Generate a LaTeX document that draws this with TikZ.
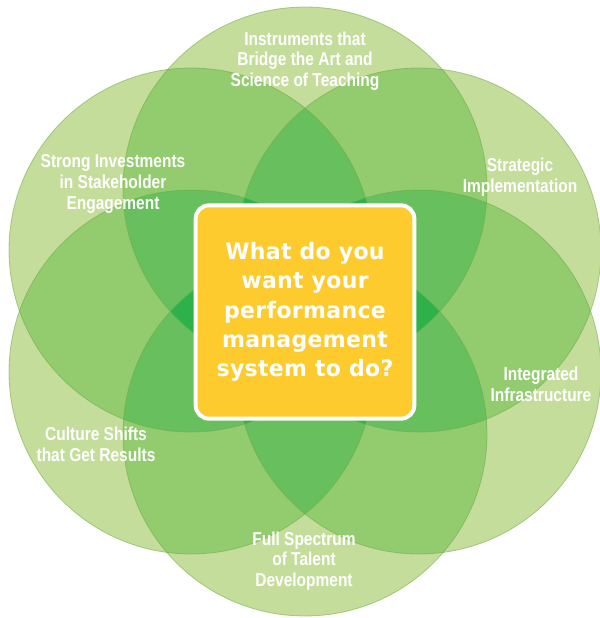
\documentclass[tikz,border=0pt]{standalone}
\usepackage{fontspec}
\usepackage{xcolor}
\usetikzlibrary{shadows}
\newfontfamily\lblfont[FakeStretch=0.83]{Liberation Sans Bold}
\newfontfamily\askfont[LetterSpace=1.5,FakeStretch=0.97]{DejaVu Sans Bold}
\definecolor{lvone}{RGB}{197,221,155}
\definecolor{lvtwo}{RGB}{146,204,110}
\definecolor{lvthree}{RGB}{103,191,94}
\definecolor{lvfour}{RGB}{45,178,75}
\definecolor{ringline}{RGB}{110,170,70}
\definecolor{askyellow}{RGB}{253,203,45}
\newcommand\crad{182}
\tikzset{
  ring/.style={draw=ringline,draw opacity=0.55,line width=0.6pt},
  lbl/.style={text=white,align=center,font=\lblfont\fontsize{14}{15.5}\selectfont},
  askbox/.style={draw=white,line width=3pt,rounded corners=10pt,fill=askyellow,minimum width=164pt,minimum height=160pt,
    drop shadow={shadow xshift=1.2pt,shadow yshift=-1.2pt,opacity=0.35}},
  asktext/.style={text=white,align=center,font=\askfont\fontsize{17}{22}\selectfont}
}
\begin{document}
\begin{tikzpicture}[x=0.75pt,y=-0.75pt]
  \useasboundingbox (0,0) rectangle (600,618);
  % circle centres, clockwise from the top
  \coordinate (c1) at (305,189);
  \coordinate (c2) at (419,250);
  \coordinate (c3) at (419,372);
  \coordinate (c4) at (305,434);
  \coordinate (c5) at (191,372);
  \coordinate (c6) at (191,250);

  % one layer
  \foreach \ia in {1,...,6}
    \fill[lvone] (c\ia) circle[radius=\crad];
  % two layers
  \foreach \ia in {1,...,5}{
    \pgfmathtruncatemacro\an{\ia+1}
    \foreach \ib in {\an,...,6}{
      \begin{scope}
        \clip (c\ia) circle[radius=\crad];
        \fill[lvtwo] (c\ib) circle[radius=\crad];
      \end{scope}}}
  % three layers
  \foreach \ia in {1,...,4}{
    \pgfmathtruncatemacro\an{\ia+1}
    \foreach \ib in {\an,...,5}{
      \pgfmathtruncatemacro\bn{\ib+1}
      \foreach \ic in {\bn,...,6}{
        \begin{scope}
          \clip (c\ia) circle[radius=\crad];
          \clip (c\ib) circle[radius=\crad];
          \fill[lvthree] (c\ic) circle[radius=\crad];
        \end{scope}}}}
  % four layers
  \foreach \ia in {1,...,3}{
    \pgfmathtruncatemacro\an{\ia+1}
    \foreach \ib in {\an,...,4}{
      \pgfmathtruncatemacro\bn{\ib+1}
      \foreach \ic in {\bn,...,5}{
        \pgfmathtruncatemacro\cn{\ic+1}
        \foreach \id in {\cn,...,6}{
          \begin{scope}
            \clip (c\ia) circle[radius=\crad];
            \clip (c\ib) circle[radius=\crad];
            \clip (c\ic) circle[radius=\crad];
            \fill[lvfour] (c\id) circle[radius=\crad];
          \end{scope}}}}}
  \foreach \ia in {1,...,6}
    \draw[ring] (c\ia) circle[radius=\crad];

  \node (instr) [lbl] at (305,61) {Instruments that\\Bridge the Art and\\Science of Teaching};
  \node (invest) [lbl] at (113,184) {Strong Investments\\in Stakeholder\\Engagement};
  \node (strat) [lbl] at (520,177) {Strategic\\Implementation};
  \node (infra) [lbl] at (541,384) {Integrated\\Infrastructure};
  \node (culture) [lbl] at (96,444) {Culture Shifts\\that Get Results};
  \node (talent) [lbl] at (304,561) {Full Spectrum\\of Talent\\Development};

  \node (ask) [askbox] at (305,312) {};
  \node (asktxt) [asktext] at (ask) {What do you\\want your\\performance\\management\\system to do?};
\end{tikzpicture}
\end{document}
